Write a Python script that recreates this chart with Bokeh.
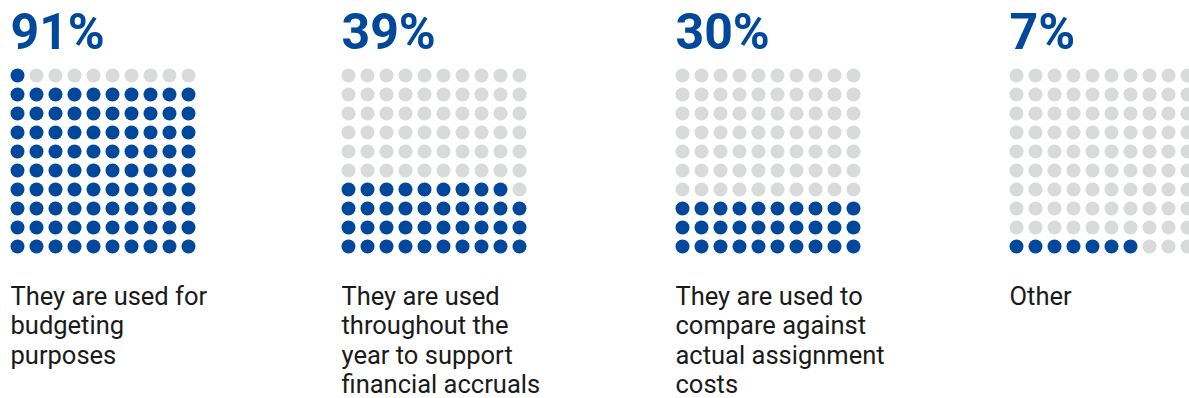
from bokeh.plotting import figure
from bokeh.models import Range1d, ColumnDataSource
from bokeh.core.properties import value
from bokeh.embed import file_html
from bokeh.resources import INLINE

# ---- data ----
percent_values = [91, 39, 30, 7]
percent_labels = ["91%", "39%", "30%", "7%"]
descriptions = [
    ["They are used for", "budgeting", "purposes"],
    ["They are used", "throughout the", "year to support", "financial accruals"],
    ["They are used to", "compare against", "actual assignment", "costs"],
    ["Other"],
]

# ---- style / layout ----
BLUE = "#00489B"
GRAY = "#D9DADA"
TEXT = "#1A1A1A"
panel_left = [10, 341, 675, 1009]
dot_step = 19
dot_size = 14
bottom_row_y = 246
title_y = 31
label_y = 295.5
label_step = 29.3

p = figure(width=1189, height=398, output_backend="svg", toolbar_location=None,
           x_range=Range1d(0, 1189), y_range=Range1d(398, 0), min_border=0)
p.axis.visible = False
p.grid.visible = False
p.outline_line_color = None
p.background_fill_color = "white"
p.border_fill_color = "white"

xs, ys, cs = [], [], []
for left, v in zip(panel_left, percent_values):
    for k in range(100):
        r, c = divmod(k, 10)
        xs.append(left + dot_size / 2 + c * dot_step)
        ys.append(bottom_row_y - r * dot_step)
        cs.append(BLUE if k < v else GRAY)
p.scatter(x="x", y="y", color="c", source=ColumnDataSource(dict(x=xs, y=ys, c=cs)),
          size=dot_size, line_color=None)

p.text(x=panel_left, y=[title_y] * 4, text=percent_labels,
       text_font=value("Roboto"), text_font_style="bold", text_font_size="50px",
       text_color=BLUE, text_baseline="alphabetic", text_align="left")

lx, ly, lt = [], [], []
for left, lines in zip(panel_left, descriptions):
    for i, line in enumerate(lines):
        lx.append(left)
        ly.append(label_y + i * label_step)
        lt.append(line)
p.text(x=lx, y=ly, text=lt, text_font=value("Roboto"), text_font_size="25.5px",
       text_color=TEXT, text_baseline="alphabetic", text_align="left")

open("out.html", "w").write(file_html(p, INLINE))
